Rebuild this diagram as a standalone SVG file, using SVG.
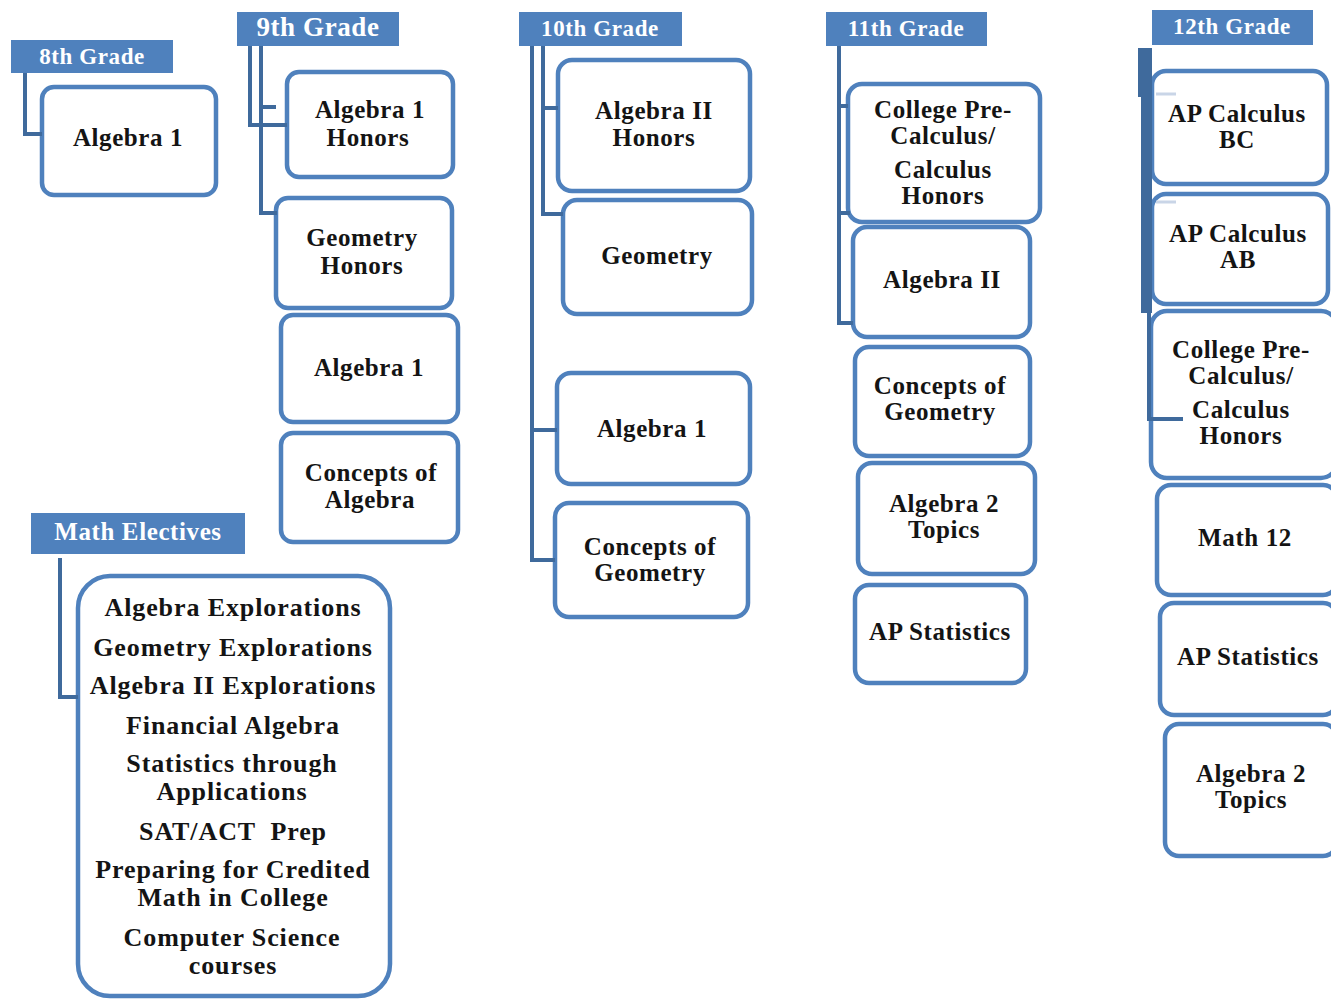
<svg xmlns="http://www.w3.org/2000/svg" width="1331" height="999" viewBox="0 0 1331 999">
<style>
.hdr{fill:#4F81BD}
.ht{fill:#fff;font-family:"Liberation Serif",serif;font-weight:bold;font-size:23px;text-anchor:middle;letter-spacing:0.6px}
.box{fill:#fff;stroke:#4F81BD;stroke-width:4.5}
.t{fill:#141414;font-family:"Liberation Serif",serif;font-weight:bold;font-size:25px;text-anchor:middle;letter-spacing:0.6px}
.c{fill:none;stroke:#3F6A9C;stroke-width:4;stroke-linejoin:miter}
.f{fill:none;stroke:#C9D5E7;stroke-width:3}
</style>
<rect width="1331" height="999" fill="#fff"/>

<g id="hdr8"><rect class="hdr" x="11" y="40" width="162" height="33"/><text class="ht" x="92" y="64">8th Grade</text></g>
<g id="hdr9"><rect class="hdr" x="237" y="12" width="162" height="34"/><text class="ht" x="318" y="36" style="font-size:27px">9th Grade</text></g>
<g id="hdr10"><rect class="hdr" x="519" y="12" width="163" height="34"/><text class="ht" x="600" y="36">10th Grade</text></g>
<g id="hdr11"><rect class="hdr" x="826" y="12" width="161" height="34"/><text class="ht" x="906" y="36">11th Grade</text></g>
<g id="hdr12"><rect class="hdr" x="1152" y="10" width="161" height="35"/><text class="ht" x="1232" y="34">12th Grade</text></g>
<g id="hdrE"><rect class="hdr" x="31" y="513" width="214" height="41"/><text class="ht" x="138" y="540" style="font-size:25px">Math Electives</text></g>

<g id="g8-alg1"><rect class="box" x="42" y="87" width="174" height="108" rx="12"/><text class="t" x="128" y="146">Algebra 1</text></g>

<g id="g9-alg1h"><rect class="box" x="287" y="72" width="166" height="105" rx="12"/><text class="t"><tspan x="370" y="118">Algebra 1</tspan><tspan x="368" y="146">Honors</tspan></text></g>
<g id="g9-geoh"><rect class="box" x="276" y="198" width="176" height="110" rx="12"/><text class="t"><tspan x="362" y="246">Geometry</tspan><tspan x="362" y="274">Honors</tspan></text></g>
<g id="g9-alg1"><rect class="box" x="281" y="315" width="177" height="107" rx="12"/><text class="t" x="369" y="376">Algebra 1</text></g>
<g id="g9-coa"><rect class="box" x="281" y="433" width="177" height="109" rx="12"/><text class="t"><tspan x="371" y="481">Concepts of</tspan><tspan x="370" y="508">Algebra</tspan></text></g>

<g id="g10-alg2h"><rect class="box" x="558" y="60" width="192" height="131" rx="14"/><text class="t"><tspan x="654" y="119">Algebra II</tspan><tspan x="654" y="146">Honors</tspan></text></g>
<g id="g10-geo"><rect class="box" x="563" y="200" width="189" height="114" rx="14"/><text class="t" x="657" y="264">Geometry</text></g>
<g id="g10-alg1"><rect class="box" x="557" y="373" width="193" height="111" rx="14"/><text class="t" x="652" y="437">Algebra 1</text></g>
<g id="g10-cog"><rect class="box" x="555" y="503" width="193" height="114" rx="14"/><text class="t"><tspan x="650" y="555">Concepts of</tspan><tspan x="650" y="581">Geometry</tspan></text></g>

<g id="g11-cpc"><rect class="box" x="848" y="84" width="192" height="138" rx="14"/><text class="t"><tspan x="943" y="118">College Pre-</tspan><tspan x="943" y="144">Calculus/</tspan><tspan x="943" y="178">Calculus</tspan><tspan x="943" y="204">Honors</tspan></text></g>
<g id="g11-alg2"><rect class="box" x="853" y="227" width="177" height="110" rx="14"/><text class="t" x="942" y="288">Algebra II</text></g>
<g id="g11-cog"><rect class="box" x="855" y="347" width="175" height="109" rx="14"/><text class="t"><tspan x="940" y="394">Concepts of</tspan><tspan x="940" y="420">Geometry</tspan></text></g>
<g id="g11-a2t"><rect class="box" x="858" y="463" width="177" height="111" rx="14"/><text class="t"><tspan x="944" y="512">Algebra 2</tspan><tspan x="944" y="538">Topics</tspan></text></g>
<g id="g11-aps"><rect class="box" x="855" y="585" width="171" height="98" rx="14"/><text class="t" x="940" y="640">AP Statistics</text></g>

<g id="g12-bc"><rect class="box" x="1152" y="71" width="175" height="113" rx="14"/><text class="t"><tspan x="1237" y="122">AP Calculus</tspan><tspan x="1237" y="148">BC</tspan></text></g>
<g id="g12-ab"><rect class="box" x="1152" y="194" width="176" height="110" rx="14"/><text class="t"><tspan x="1238" y="242">AP Calculus</tspan><tspan x="1238" y="268">AB</tspan></text></g>
<g id="g12-cpc"><rect class="box" x="1151" y="311" width="186" height="167" rx="16"/><text class="t"><tspan x="1241" y="358">College Pre-</tspan><tspan x="1241" y="384">Calculus/</tspan><tspan x="1241" y="418">Calculus</tspan><tspan x="1241" y="444">Honors</tspan></text></g>
<g id="g12-m12"><rect class="box" x="1157" y="485" width="180" height="110" rx="14"/><text class="t" x="1245" y="546">Math 12</text></g>
<g id="g12-aps"><rect class="box" x="1160" y="603" width="177" height="112" rx="14"/><text class="t" x="1248" y="665">AP Statistics</text></g>
<g id="g12-a2t"><rect class="box" x="1165" y="724" width="172" height="132" rx="14"/><text class="t"><tspan x="1251" y="782">Algebra 2</tspan><tspan x="1251" y="808">Topics</tspan></text></g>

<g id="electives"><rect class="box" x="78" y="576" width="312" height="420" rx="32"/>
<text class="t" style="font-size:26px;letter-spacing:0.9px" xml:space="preserve"><tspan x="233" y="616">Algebra Explorations</tspan><tspan x="233" y="656">Geometry Explorations</tspan><tspan x="233" y="694">Algebra II Explorations</tspan><tspan x="233" y="734">Financial Algebra</tspan><tspan x="232" y="772">Statistics through</tspan><tspan x="232" y="800">Applications</tspan><tspan x="233" y="840">SAT/ACT  Prep</tspan><tspan x="233" y="878">Preparing for Credited</tspan><tspan x="233" y="906">Math in College</tspan><tspan x="232" y="946">Computer Science</tspan><tspan x="233" y="974">courses</tspan></text>
</g>

<g id="connectors">
<path class="c" d="M25,73 V134 H42"/>
<path class="c" d="M250,46 V125 H287"/>
<path class="c" d="M261,46 V213 H277"/>
<path class="c" d="M261,107 H276"/>
<path class="c" d="M532,46 V560 H555"/>
<path class="c" d="M532,430 H557"/>
<path class="c" d="M543,46 V214 H563"/>
<path class="c" d="M543,108 H558"/>
<path class="c" d="M839,46 V323 H853"/>
<path class="c" d="M839,106 H848"/>
<path class="c" d="M839,213 H850"/>
<path d="M1138,48 H1152 V313 H1141 V97 H1138 Z" fill="#3F6A9C"/>
<path class="c" d="M1149,311 V419 H1183"/>
<path class="f" d="M1156,94 H1176 M1156,202 H1176"/>
<path class="c" d="M60,558 V697 H78"/>
</g>
</svg>
